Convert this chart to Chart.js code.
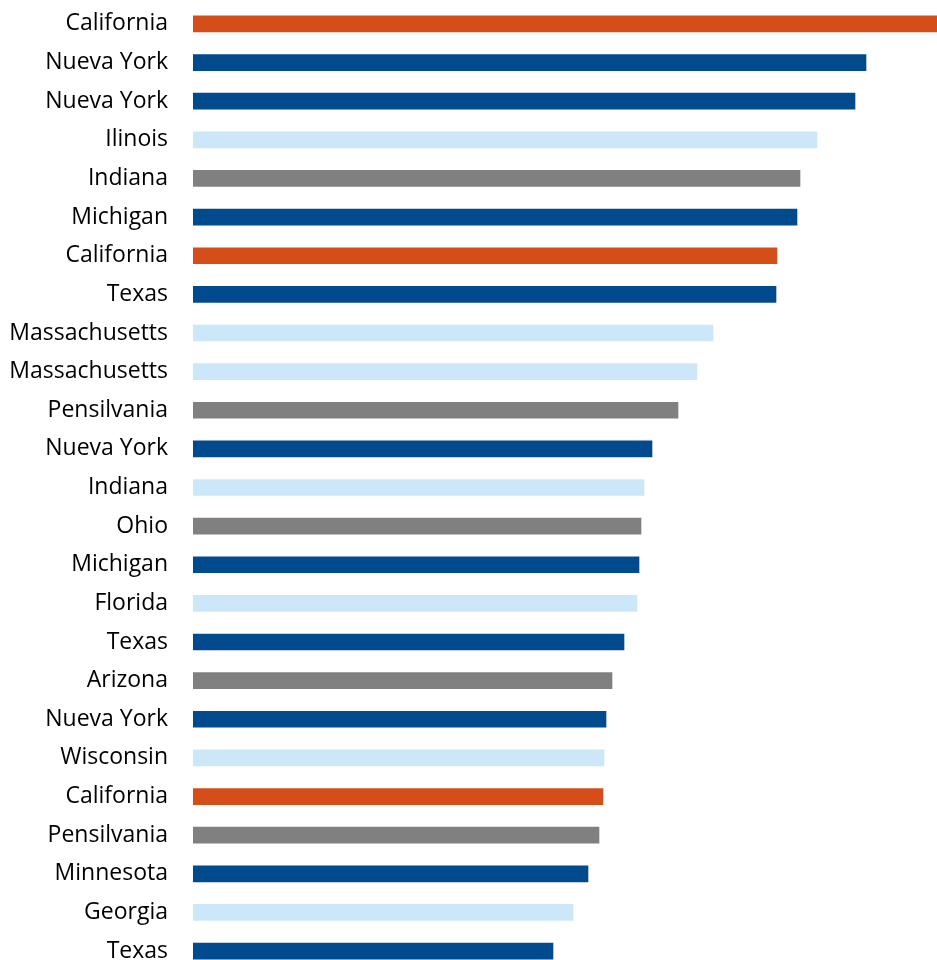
<!DOCTYPE html>
<html>
<head>
<meta charset="utf-8">
<script src="https://cdn.jsdelivr.net/npm/chart.js@4"></script>
<style>
  html, body { margin: 0; padding: 0; background: #fff; overflow: hidden; }
  #wrap { position: relative; width: 937px; height: 975px; }
</style>
</head>
<body>
<div id="wrap"><canvas id="chart"></canvas></div>
<script>
const STATES = [
  'California', 'Nueva York', 'Nueva York', 'Ilinois', 'Indiana',
  'Michigan', 'California', 'Texas', 'Massachusetts', 'Massachusetts',
  'Pensilvania', 'Nueva York', 'Indiana', 'Ohio', 'Michigan',
  'Florida', 'Texas', 'Arizona', 'Nueva York', 'Wisconsin',
  'California', 'Pensilvania', 'Minnesota', 'Georgia', 'Texas',
];

const VALUES = [
  744, 673, 662, 624, 607,
  604, 584, 583, 520, 504,
  485, 459, 451, 448, 446,
  444, 431, 419, 413, 411,
  410, 406, 395, 380, 360,
];

// colour group per bar
const GROUPS = [
  'orange', 'dark', 'dark', 'light', 'gray',
  'dark', 'orange', 'dark', 'light', 'light',
  'gray', 'dark', 'light', 'gray', 'dark',
  'light', 'dark', 'gray', 'dark', 'light',
  'orange', 'gray', 'dark', 'light', 'dark',
];

const GROUP_COLORS = {
  orange: '#D54E1A',
  dark: '#004A8D',
  light: '#CCE7F8',
  gray: '#808080',
};

new Chart(document.getElementById('chart'), {
  type: 'bar',
  data: {
    labels: STATES,
    datasets: [{
      data: VALUES,
      backgroundColor: GROUPS.map(g => GROUP_COLORS[g]),
      barThickness: 16,
    }],
  },
  options: {
    indexAxis: 'y',
    responsive: true,
    maintainAspectRatio: false,
    animation: false,
    layout: { padding: 0 },
    plugins: { legend: { display: false }, tooltip: { enabled: false } },
    scales: {
      x: { display: false, min: 0, max: 744 },
      y: {
        // tick marks hidden but their length gives the gap before the bars
        grid: { display: false, drawTicks: true, tickLength: 25 },
        border: { display: false },
        ticks: {
          color: '#000',
          padding: 0,
          autoSkip: false,
          font: { family: 'Open Sans', size: 23, lineHeight: 0.4 },
        },
        afterFit(scale) { scale.width = 193; },
      },
    },
  },
});
</script>
</body>
</html>
